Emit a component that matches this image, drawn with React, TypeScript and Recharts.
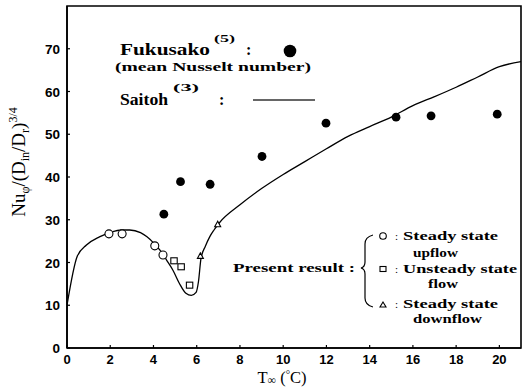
import React from "react";
import {
  ComposedChart,
  Line,
  Scatter,
  XAxis,
  YAxis,
  ReferenceArea,
} from "recharts";

// Saitoh (3) correlation curve
const saitohX = [0, 0.47, 0.9, 1.5, 2.0, 2.5, 2.9, 3.4, 3.7, 4.0, 4.3, 4.6, 4.9, 5.2, 5.5, 5.75, 5.97, 6.08, 6.2, 6.4, 6.6, 6.8, 7.05, 8, 9, 10, 11, 12, 13, 14, 15, 16, 17, 18, 19, 20, 21];
const saitohY = [10, 21.4, 24.1, 26.0, 27.0, 27.6, 27.6, 27.0, 26.0, 24.6, 22.9, 20.6, 18.2, 15.1, 12.8, 12.3, 13.0, 15.5, 21.0, 23.8, 26.0, 27.6, 29.3, 33.5, 37.3, 40.6, 43.6, 46.6, 49.5, 51.8, 54.0, 56.7, 58.8, 61.0, 63.4, 65.8, 67.0];

// Fukusako (5) mean Nusselt number
const fukuX = [4.48, 5.25, 6.62, 9.02, 11.98, 15.22, 16.84, 19.9];
const fukuY = [31.3, 38.9, 38.3, 44.8, 52.6, 54.0, 54.3, 54.7];

// Present result
const upX = [1.94, 2.55, 4.06, 4.44];
const upY = [26.7, 26.7, 23.9, 21.75];
const unsteadyX = [4.95, 5.28, 5.67];
const unsteadyY = [20.4, 19.0, 14.7];
const downX = [6.17, 6.97];
const downY = [21.5, 28.9];

const xTicks = [0, 2, 4, 6, 8, 10, 12, 14, 16, 18, 20];
const yTicks = [0, 10, 20, 30, 40, 50, 60, 70];

const zip = (xs: number[], ys: number[]) => xs.map((x, i) => ({ x, y: ys[i] }));

const saitohData = zip(saitohX, saitohY);
const fukuData = zip(fukuX, fukuY);
const upData = zip(upX, upY);
const unsteadyData = zip(unsteadyX, unsteadyY);
const downData = zip(downX, downY);

const tickFont = "'Liberation Sans', Arial, sans-serif";
const serif = "'Liberation Serif', 'Times New Roman', serif";

const XTick = (props: any) => {
  const { x, y, payload } = props;
  return (
    <g>
      <line x1={x} y1={y} x2={x} y2={y - 3} stroke="#000" strokeWidth={1.2} />
      <text x={x} y={y + 16} textAnchor="middle" fontFamily={tickFont} fontWeight="bold" fontSize={13} fill="#000">
        {payload.value}
      </text>
    </g>
  );
};

const YTick = (props: any) => {
  const { x, y, payload } = props;
  return (
    <g>
      <line x1={x} y1={y} x2={x + 3} y2={y} stroke="#000" strokeWidth={1.2} />
      <text x={x - 7} y={y + 5} textAnchor="end" fontFamily={tickFont} fontWeight="bold" fontSize={13.5} fill="#000">
        {payload.value}
      </text>
    </g>
  );
};

const FilledDot = (props: any) => <circle cx={props.cx} cy={props.cy} r={4.4} fill="#000" />;
const OpenCircle = (props: any) => (
  <circle cx={props.cx} cy={props.cy} r={4} fill="#fff" stroke="#000" strokeWidth={1.1} />
);
const OpenSquare = (props: any) => (
  <rect x={props.cx - 3.2} y={props.cy - 3} width={6.4} height={6} fill="#fff" stroke="#000" strokeWidth={1.1} />
);
const OpenTriangle = (props: any) => (
  <polygon
    points={`${props.cx},${props.cy - 3.2} ${props.cx - 3},${props.cy + 2.3} ${props.cx + 3},${props.cy + 2.3}`}
    fill="#fff"
    stroke="#000"
    strokeWidth={1.1}
  />
);

const legendText = { fontFamily: serif, fontWeight: "bold" as const, fill: "#000" };

export default function App() {
  return (
    <div style={{ position: "absolute", left: 0, top: 0, width: 527, height: 387, background: "#fff" }}>
      <ComposedChart width={527} height={387} margin={{ top: 6, right: 6, bottom: 0, left: 0 }}>
        <XAxis
          type="number"
          dataKey="x"
          domain={[0, 21]}
          ticks={xTicks}
          allowDataOverflow
          height={39}
          tickSize={0}
          tickMargin={0}
          tickLine={false}
          axisLine={{ stroke: "#000", strokeWidth: 1.6 }}
          tick={<XTick />}
        />
        <YAxis
          type="number"
          dataKey="y"
          domain={[0, 80]}
          ticks={yTicks}
          allowDataOverflow
          width={67}
          tickSize={0}
          tickMargin={0}
          tickLine={false}
          axisLine={{ stroke: "#000", strokeWidth: 1.6 }}
          tick={<YTick />}
        />
        <ReferenceArea x1={0} x2={21} y1={0} y2={80} fill="none" stroke="#000" strokeWidth={1.6} ifOverflow="visible" />
        <Line
          data={saitohData}
          dataKey="y"
          type="monotone"
          dot={false}
          stroke="#000"
          strokeWidth={1.3}
          isAnimationActive={false}
        />
        <Scatter data={fukuData} dataKey="y" shape={<FilledDot />} isAnimationActive={false} />
        <Scatter data={upData} dataKey="y" shape={<OpenCircle />} isAnimationActive={false} />
        <Scatter data={unsteadyData} dataKey="y" shape={<OpenSquare />} isAnimationActive={false} />
        <Scatter data={downData} dataKey="y" shape={<OpenTriangle />} isAnimationActive={false} />
      </ComposedChart>
      <svg
        width={527}
        height={387}
        style={{ position: "absolute", left: 0, top: 0, pointerEvents: "none" }}
      >
        {/* Y axis label */}
        <text
          transform="translate(25,162) rotate(-90)"
          textAnchor="middle"
          fontFamily={serif}
          fontSize={19}
          fill="#000"
        >
          Nu
          <tspan fontSize={12} dy={4}>φ</tspan>
          <tspan dy={-4}>/(D</tspan>
          <tspan fontSize={12} dy={4}>in</tspan>
          <tspan dy={-4}>/D</tspan>
          <tspan fontSize={12} dy={4}>r</tspan>
          <tspan dy={-4}>)</tspan>
          <tspan fontSize={12} dy={-8}>3/4</tspan>
        </text>
        {/* X axis label */}
        <text x={282} y={383} textAnchor="middle" fontFamily={serif} fontSize={16.5} fill="#000">
          T<tspan fontSize={12} dy={1}>∞</tspan>
          <tspan dy={-1}> (</tspan>
          <tspan fontSize={11} dy={-5}>°</tspan>
          <tspan dy={5}>C)</tspan>
        </text>

        {/* Fukusako legend */}
        <text x={120} y={55} fontSize={17} textLength={90} lengthAdjust="spacingAndGlyphs" {...legendText}>Fukusako</text>
        <text x={214} y={42} fontSize={11} textLength={21} lengthAdjust="spacingAndGlyphs" {...legendText}>(5)</text>
        <text x={246} y={55} fontSize={16} {...legendText}>:</text>
        <circle cx={290} cy={51} r={6.3} fill="#000" />
        <text x={115} y={71} fontSize={13} textLength={196} lengthAdjust="spacingAndGlyphs" {...legendText}>(mean Nusselt number)</text>

        {/* Saitoh legend */}
        <text x={120} y={105} fontSize={17} textLength={48} lengthAdjust="spacingAndGlyphs" {...legendText}>Saitoh</text>
        <text x={173} y={91} fontSize={11} textLength={26} lengthAdjust="spacingAndGlyphs" {...legendText}>(3)</text>
        <text x={219} y={105} fontSize={16} {...legendText}>:</text>
        <line x1={253} y1={100} x2={315} y2={100} stroke="#333" strokeWidth={1.4} />

        {/* Present result legend */}
        <text x={233} y={272} fontSize={13} textLength={122} lengthAdjust="spacingAndGlyphs" {...legendText}>Present result :</text>
        <path
          d="M 373 235 Q 365 237 365 244 L 365 262 Q 365 267 361 268 Q 365 269 365 274 L 365 298 Q 365 305 373 307"
          fill="none"
          stroke="#000"
          strokeWidth={1.2}
        />
        <circle cx={383} cy={236} r={3.3} fill="#fff" stroke="#000" strokeWidth={1.1} />
        <text x={395} y={240} fontSize={11} fontFamily={serif} fill="#000">:</text>
        <text x={403} y={240} fontSize={13} textLength={95} lengthAdjust="spacingAndGlyphs" {...legendText}>Steady state</text>
        <text x={413} y={257} fontSize={13} textLength={45} lengthAdjust="spacingAndGlyphs" {...legendText}>upflow</text>

        <rect x={380} y={266.5} width={6} height={5} fill="#fff" stroke="#000" strokeWidth={1.1} />
        <text x={395} y={273} fontSize={11} fontFamily={serif} fill="#000">:</text>
        <text x={403} y={273} fontSize={13} textLength={114} lengthAdjust="spacingAndGlyphs" {...legendText}>Unsteady state</text>
        <text x={428} y={288} fontSize={13} textLength={30} lengthAdjust="spacingAndGlyphs" {...legendText}>flow</text>

        <polygon points="383,302 380,307 386,307" fill="#fff" stroke="#000" strokeWidth={1.1} />
        <text x={395} y={308} fontSize={11} fontFamily={serif} fill="#000">:</text>
        <text x={403} y={308} fontSize={13} textLength={95} lengthAdjust="spacingAndGlyphs" {...legendText}>Steady state</text>
        <text x={413} y={323} fontSize={13} textLength={69} lengthAdjust="spacingAndGlyphs" {...legendText}>downflow</text>
      </svg>
    </div>
  );
}
